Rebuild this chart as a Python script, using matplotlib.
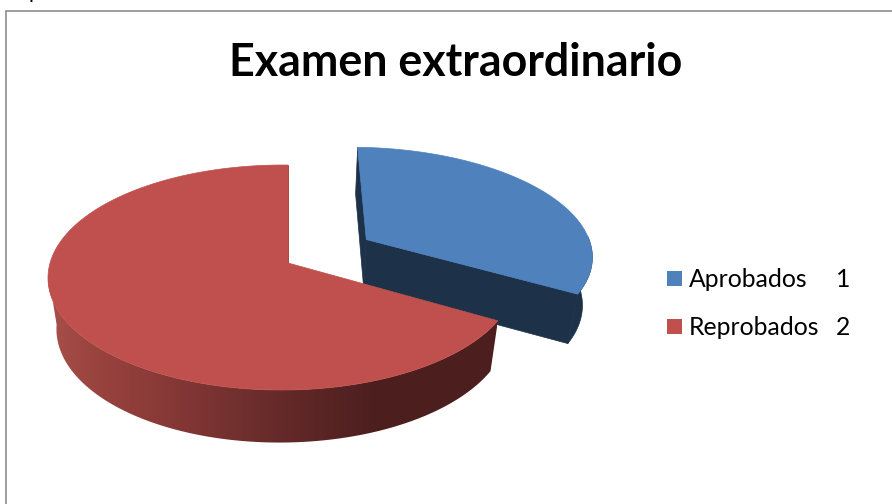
import numpy as np
import matplotlib
matplotlib.use("Agg")
import matplotlib.pyplot as plt
from matplotlib.colors import LinearSegmentedColormap
from matplotlib.patches import Polygon, Rectangle

categories = ["Aprobados", "Reprobados"]
values = [1, 2]
chart_title = "Examen extraordinario"

BLUE = "#4F81BD"
RED = "#C0504D"
NAVY = "#1D3149"

plt.rcParams["font.family"] = ["Lato", "DejaVu Sans"]

fig = plt.figure(figsize=(8.92, 5.04), dpi=100)
ax = fig.add_axes([0, 0, 1, 1])
ax.set_xlim(0, 892)
ax.set_ylim(504, 0)
ax.axis("off")


def project(u, v, z=0.0):
    """Perspective projection of a point on the unit pie, z=1 being the base."""
    u, v = np.asarray(u, float), np.asarray(v, float)
    w = 1 + 0.129 * v + 0.025 * u + 0.035 * z
    return np.column_stack([288 + 232 * u / w, 263 - (110.6 * v - 52 * z) / w])


def arc(a0, a1, centre=(0.0, 0.0), stretch=1.0, n=200):
    t = np.radians(np.linspace(a0, a1, n))
    return centre[0] + stretch * np.cos(t), centre[1] + np.sin(t)


def wall(a0, a1, centre=(0.0, 0.0), stretch=1.0):
    u, v = arc(a0, a1, centre, stretch)
    return np.vstack([project(u, v), project(u, v, 1)[::-1]])


def cut(angle, centre, stretch=1.0):
    t = np.radians(angle)
    tip = (centre[0] + stretch * np.cos(t), centre[1] + np.sin(t))
    us, vs = [centre[0], tip[0]], [centre[1], tip[1]]
    return np.vstack([project(us, vs), project(us, vs, 1)[::-1]])


def face(a0, a1, centre=(0.0, 0.0), stretch=1.0):
    u, v = arc(a0, a1, centre, stretch)
    return np.vstack([project([centre[0]], [centre[1]]), project(u, v)])


# Wedge angles run clockwise from twelve o'clock
total = sum(values)
sweep = [360 * x / total for x in values]
blue_start, blue_end = 90, 90 - sweep[0]
red_start, red_end = blue_end, blue_end - sweep[1]

# The first wedge is pulled out towards the upper right
offset = (0.35, 0.22)
widen = 1.03

# Pulled-out wedge: rim, cut faces, then the top
ax.add_patch(Polygon(wall(blue_end, blue_end + 32, offset, widen), fc=NAVY, ec=NAVY, lw=0.5))
ax.add_patch(Polygon(cut(blue_end, offset, widen), fc=NAVY, ec=NAVY, lw=0.5))
ax.add_patch(Polygon(cut(blue_start, offset, widen), fc=NAVY, ec=NAVY, lw=0.5))
ax.add_patch(Polygon(face(blue_start, blue_end, offset, widen), fc=BLUE, ec=BLUE, lw=0.5))

# Remaining wedge: shaded rim with a left-to-right gradient, then the top
ax.add_patch(Polygon(cut(red_end, (0, 0)), fc="#A84643", ec="#A84643", lw=0.5))
rim = Polygon(wall(red_start, red_start - 145), fc="none", ec="none")
ax.add_patch(rim)
shade = LinearSegmentedColormap.from_list(
    "rim",
    [(0.0, "#A8504A"), (0.12, "#98423D"), (0.28, "#853836"),
     (0.52, "#642A29"), (0.72, "#4E1F1F"), (1.0, "#4C1E1E")],
)
image = ax.imshow(np.linspace(0, 1, 256)[None, :], cmap=shade, extent=(47, 497, 504, 0),
                  aspect="auto", zorder=1.5)
image.set_clip_path(rim)
ax.add_patch(Polygon(face(red_start, red_end), fc=RED, ec=RED, lw=0.5, zorder=2))
ax.set_xlim(0, 892)
ax.set_ylim(504, 0)

ax.text(456, 76, chart_title, fontsize=32.2, fontweight="bold", ha="center",
        va="baseline", color="black")

# Legend with the value beside each entry
for i, (name, value, colour) in enumerate(zip(categories, values, [BLUE, RED])):
    y = 271 + 48 * i
    ax.add_patch(Rectangle((667, y), 15, 15, fc=colour, ec="none"))
    ax.text(689, y + 16, name, fontsize=17.8, va="baseline", color="black")
    ax.text(843.5, y + 16, str(value), fontsize=17.8, va="baseline", ha="center", color="black")

# Frame of the embedded chart and a clipped character from the line above it
ax.plot([6, 6, 892], [504, 11, 11], color="#8C8C8C", lw=1.2, solid_joinstyle="miter")
ax.text(28, -2, "p", fontsize=15, va="baseline", color="black", clip_on=False)

fig.savefig("out.png", dpi=100)
